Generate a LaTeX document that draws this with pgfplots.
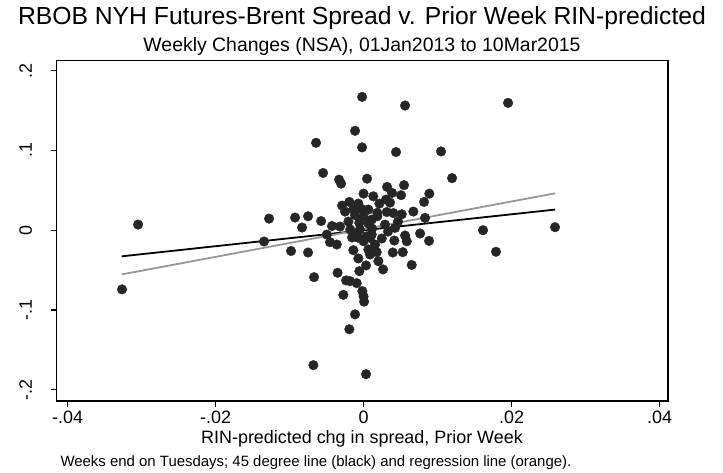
\documentclass[border=0pt]{standalone}
\usepackage{fontspec}
\setmainfont{Liberation Sans}
\usepackage{pgfplots}
\pgfplotsset{compat=1.18}
\definecolor{dotc}{RGB}{38,38,38}
\definecolor{regc}{RGB}{150,150,150}
\begin{document}
\begin{tikzpicture}[x=1bp,y=1bp]
\path[use as bounding box] (0,0) rectangle (723,473);
\begin{axis}[
  name=ax,
  at={(56.5bp,72bp)}, anchor=south west,
  width=611.5bp, height=340.3bp, scale only axis,
  axis lines=box,
  xmin=-0.0415, xmax=0.04115,
  ymin=-0.214, ymax=0.2125,
  scaled x ticks=false, scaled y ticks=false,
  xtick={-0.04,-0.02,0,0.02,0.04},
  xticklabels={-.04,-.02,0,.02,.04},
  ytick={-0.2,-0.1,0,0.1,0.2},
  yticklabels={-.2,-.1,0,.1,.2},
  axis line style={line width=1.3bp, black},
  tick style={line width=1.3bp, black},
  tick align=outside, major tick length=6bp,
  xtick pos=bottom, ytick pos=left,
  tick label style={font=\fontsize{18}{20}\selectfont},
  yticklabel style={rotate=90, anchor=south},
  yticklabel shift=15bp,
  /pgf/number format/assume math mode=true,
]
\addplot[only marks, mark=*, mark size=4.8bp, mark options={fill=dotc, draw=dotc}] coordinates {
(-0.03264,-0.0741) (-0.03047,0.0071) (-0.01277,0.0146) (-0.01345,-0.0141)
(-0.00926,0.0159) (-0.0098,-0.026) (-0.0075,-0.0279) (-0.00831,0.0034)
(-0.0075,0.0175) (-0.00574,0.0115) (-0.00669,-0.0588) (-0.00426,0.0053)
(-0.00318,0.0046) (-0.00642,0.1096) (-0.00547,0.0718) (-0.00331,0.0634)
(-0.00304,0.0584) (-0.0002,0.1671) (0.00561,0.1563) (-0.00115,0.1246)
(-0.0002,0.1038) (0.00439,0.098) (0.01047,0.0988) (0.01953,0.1596)
(0.00047,0.0646) (0.01196,0.0653) (0.00318,0.0543) (0.00547,0.0565)
(0.00385,0.0468) (0.00507,0.044) (0.00889,0.0459) (0.00818,0.0355)
(0.0000,0.0459) (0.00132,0.0425) (-0.00192,0.0355) (-0.0007,0.0334)
(0.00214,0.0334) (0.00358,0.0346) (-0.00138,0.0259) (-0.00024,0.0265)
(0.00065,0.0259) (-0.00115,0.019) (0.00186,0.0218) (0.00314,0.0228)
(0.00403,0.0215) (0.00516,0.02) (0.00673,0.0234) (0.00831,0.0155)
(0.0000,0.0171) (0.00111,0.0134) (0.00186,0.0175) (-0.00205,0.0109)
(-0.00057,0.0093) (0.00065,0.0084) (0.00426,0.003) (-0.00497,-0.0054)
(-0.00453,-0.015) (-0.00362,-0.0179) (-0.00092,-0.0054) (0.00043,-0.0075)
(-0.0007,-0.0095) (0.0000,-0.0138) (0.00088,-0.0095) (0.00111,-0.0054)
(0.00246,-0.0104) (-0.00138,-0.025) (-0.0007,-0.0354) (0.00065,-0.0241)
(0.00088,-0.0304) (0.00178,-0.0275) (0.002,-0.0388) (0.00264,-0.0491)
(0.00395,-0.0279) (0.0053,-0.0275) (0.00416,-0.0129) (0.00561,-0.0066)
(0.00584,-0.0138) (0.00764,-0.0041) (0.00885,-0.0133) (0.00651,-0.0435)
(-0.00351,-0.0533) (-0.00057,-0.0513) (-0.00236,-0.0629) (-0.00182,-0.0638)
(-0.00092,-0.0663) (-0.00016,-0.0763) (-0.00273,-0.081) (0.0000,-0.0829)
(0.00007,-0.0895) (-0.00115,-0.1054) (-0.00192,-0.1241) (-0.00678,-0.1691)
(0.00034,-0.1804) (0.01615,0.0) (0.02588,0.0038) (0.0179,-0.027)
(-0.0025,0.0234) (0.00115,0.0021) (0.0029,0.0071) (-0.0005,0.0009)
(-0.00155,-0.0091) (0.00155,-0.0179) (0.0033,-0.0016) (0.00034,-0.0441)
(0.00466,0.0109) (-0.0029,0.0309) (0.00304,0.0384) (-0.0018,0.0009)
};
\addplot[black, line width=1.8bp] coordinates {(-0.0327,-0.0327) (0.0259,0.0259)};
\addplot[regc, line width=1.8bp] coordinates {(-0.0327,-0.0554) (0.0259,0.0463)};
\end{axis}
\draw[line width=1.3bp, black] (ax.south west) rectangle (ax.north east);
\node[anchor=base] at (362,448) {\fontsize{24.8}{29}\selectfont RBOB NYH Futures-Brent Spread v. Prior Week RIN-predicted};
\node[anchor=base] at (362,421.5) {\fontsize{19.5}{22}\selectfont Weekly Changes (NSA), 01Jan2013 to 10Mar2015};
\node[anchor=base] at (362,29) {\fontsize{18}{20}\selectfont RIN-predicted chg in spread, Prior Week};
\node[anchor=base west] at (57,6) {\fontsize{15}{17}\selectfont Weeks end on Tuesdays; 45 degree line (black) and regression line (orange).};
\end{tikzpicture}
\end{document}
